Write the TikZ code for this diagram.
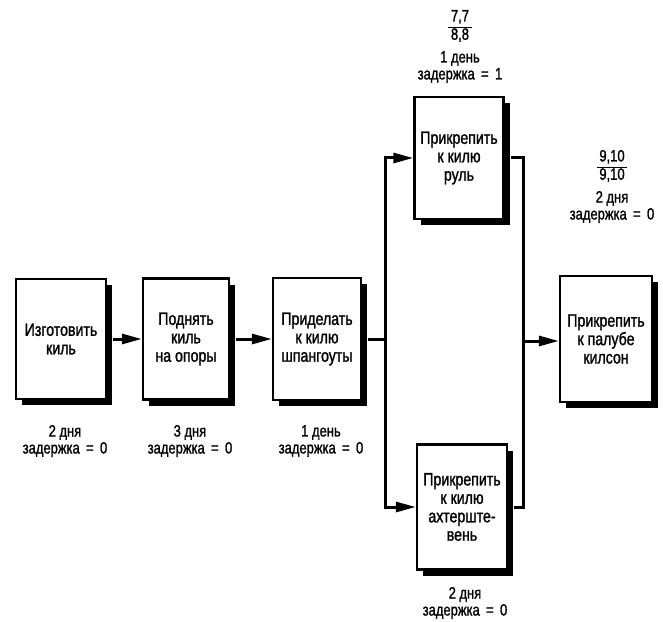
\documentclass[tikz,border=0pt]{standalone}
\usepackage{fontspec}
\setmainfont{Liberation Sans}[FakeStretch=0.79, FakeBold=1.3]
\usetikzlibrary{arrows.meta,shadows}
\begin{document}
\begin{tikzpicture}[x=1bp,y=-1bp,
  box/.style={draw, line width=2.4bp, fill=white, inner sep=0pt, align=center,
    font=\fontsize{18}{18.5}\selectfont,
    drop shadow={shadow xshift=6bp, shadow yshift=-6bp, fill=black, opacity=1}},
  lbl/.style={align=center, inner sep=0pt, font=\fontsize{16.5}{17}\selectfont},
  frac/.style={inner sep=0pt, font=\fontsize{16.5}{18}\selectfont},
  conn/.style={line width=3bp},
  arr/.style={line width=3bp, -{Triangle[length=20bp,width=10bp]}}]
\useasboundingbox (0,0) rectangle (663,622);

\node[box, minimum width=90bp, minimum height=120bp] (a) at (61,339) {Изготовить\\киль};
\node[box, minimum width=86bp, minimum height=121bp] (b) at (186,339) {Поднять\\киль\\на опоры};
\node[box, minimum width=88bp, minimum height=122bp] (c) at (317,339) {Приделать\\к килю\\шпангоуты};
\node[box, minimum width=89bp, minimum height=122bp] (d) at (459,158) {Прикрепить\\к килю\\руль};
\node[box, minimum width=90bp, minimum height=125bp] (e) at (462,507) {Прикрепить\\к килю\\ахтерште-\\вень};
\node[box, minimum width=92bp, minimum height=126bp] (f) at (606,339) {Прикрепить\\к палубе\\килсон};

\node[lbl] (la) at (65,441) {2 дня\\задержка \,=\, 0};
\node[lbl] (lb) at (190,441) {3 дня\\задержка \,=\, 0};
\node[lbl] (lc) at (321,441) {1 день\\задержка \,=\, 0};
\node[lbl] (le) at (465,603) {2 дня\\задержка \,=\, 0};
\node[frac] (fd) at (460,27) {\begin{tabular}{@{\,}c@{\,}}7,7\\\hline 8,8\end{tabular}};
\node[lbl] (ld) at (460,67) {1 день\\задержка \,=\, 1};
\node[frac] (ff) at (612,167) {\begin{tabular}{@{\,}c@{\,}}9,10\\\hline 9,10\end{tabular}};
\node[lbl] (lf) at (612,207) {2 дня\\задержка \,=\, 0};

\coordinate (bl) at (385,339);
\coordinate (br) at (523,341);

\draw[arr] ([xshift=6bp]a.east) -- (b.west);
\draw[arr] ([xshift=6bp]b.east) -- (c.west);
\draw[conn] ([xshift=6bp]c.east) -- (bl);
\draw[arr] (bl) |- (d.west);
\draw[arr] (bl) |- (e.west);
\draw[conn] ([xshift=6bp]d.east) -| (br);
\draw[conn] ([xshift=6bp]e.east) -| (br);
\draw[arr] (br) -- (br -| f.west);
\end{tikzpicture}
\end{document}
